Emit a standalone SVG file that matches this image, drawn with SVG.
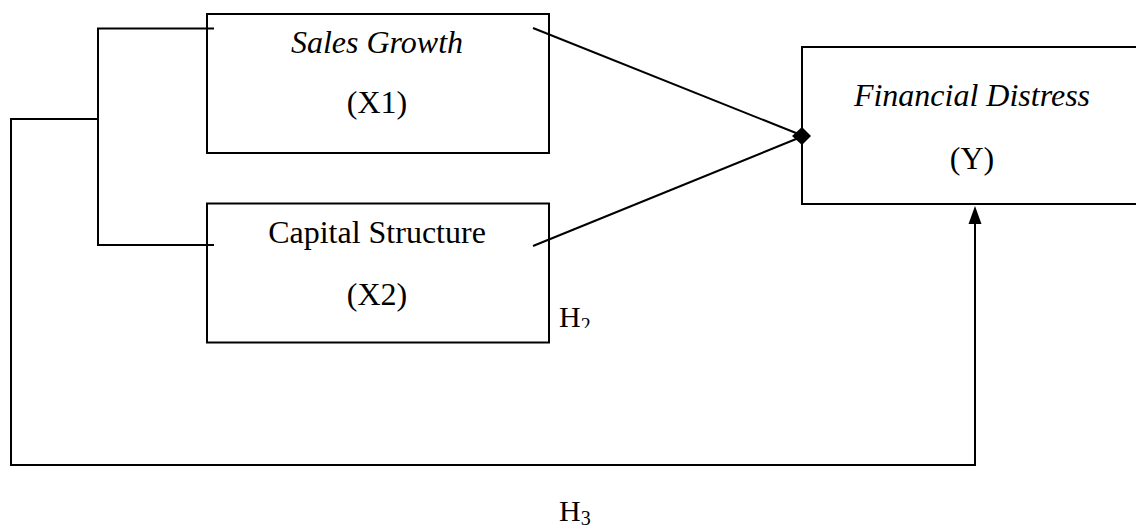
<svg xmlns="http://www.w3.org/2000/svg" width="1136" height="529" viewBox="0 0 1136 529">
<defs>
<style>
.box{fill:#fff;stroke:#000;stroke-width:2}
.ln{fill:none;stroke:#000;stroke-width:2}
.t{font-size:32px;fill:#000;text-anchor:middle}
.i{font-style:italic}
.h{font-size:30px;fill:#000}
</style>
<clipPath id="h2clip"><rect x="540" y="290" width="80" height="38"/></clipPath>
</defs>
<rect width="1136" height="529" fill="#fff"/>
<g font-family="Liberation Serif, Tinos, Times New Roman, DejaVu Serif, serif">
<g id="node-x1">
<rect class="box" x="207" y="14" width="342" height="139"/>
<text class="t i" x="377" y="53">Sales Growth</text>
<text class="t" x="377" y="113">(X1)</text>
</g>
<g id="node-x2">
<rect class="box" x="207" y="203.5" width="342" height="139"/>
<text class="t" x="377" y="243">Capital Structure</text>
<text class="t" x="377" y="305">(X2)</text>
</g>
<g id="node-y">
<rect class="box" x="802" y="47" width="400" height="157"/>
<text class="t i" x="972" y="106">Financial Distress</text>
<text class="t" x="972" y="169">(Y)</text>
</g>
<g id="connectors">
<path class="ln" d="M214,28.5 H98 V245 H214"/>
<path class="ln" d="M98,119 H11 V465 H975 V220"/>
<polygon points="975,206 968.5,224 981.5,224" fill="#000"/>
<line class="ln" x1="533" y1="28" x2="801" y2="135"/>
<line class="ln" x1="533" y1="246" x2="801" y2="137"/>
<polygon points="792,136 802,127 811,136 802,145" fill="#000"/>
</g>
<g id="labels">
<text class="h" x="559" y="327" clip-path="url(#h2clip)">H<tspan font-size="20" dy="5">2</tspan></text>
<text class="h" x="559" y="521">H<tspan font-size="20" dy="4">3</tspan></text>
</g>
</g>
</svg>
